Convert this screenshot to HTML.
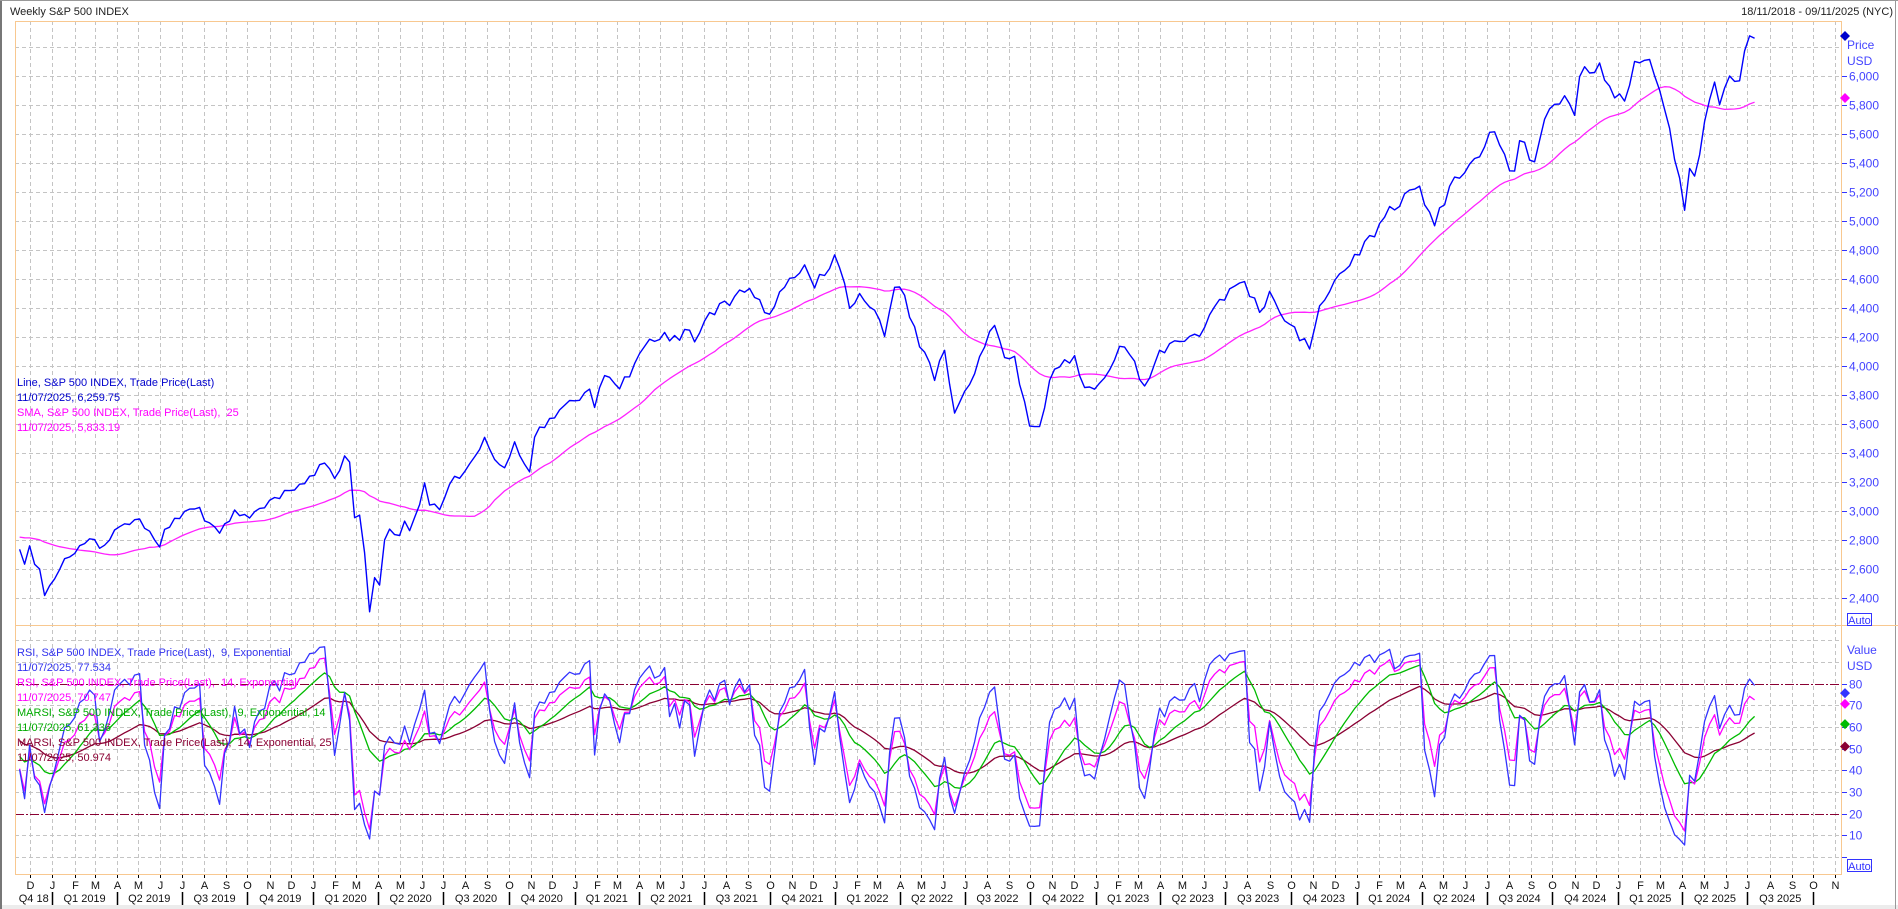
<!DOCTYPE html>
<html><head><meta charset="utf-8"><style>
html,body{margin:0;padding:0;background:#fff;}
svg{display:block;font-family:"Liberation Sans",Arial,sans-serif;}
</style></head><body>
<svg id="s" width="1898" height="909" xmlns="http://www.w3.org/2000/svg">
<rect x="0" y="0" width="1898" height="909" fill="#fff"/>
<rect x="0" y="905" width="1898" height="4" fill="#ececec"/>
<line x1="1" y1="0" x2="1" y2="909" stroke="#777" stroke-width="2"/>
<line x1="0" y1="0.5" x2="1898" y2="0.5" stroke="#999"/>
<line x1="1895.5" y1="0" x2="1895.5" y2="909" stroke="#999"/>
<text x="10" y="15" font-size="11" fill="#222">Weekly S&amp;P 500 INDEX</text>
<text x="1893" y="15" font-size="11" fill="#222" text-anchor="end">18/11/2018 - 09/11/2025 (NYC)</text>
<g id="grid"></g>
<g id="series"></g>
<g id="axes"></g>
</svg>
<script>
const NS="http://www.w3.org/2000/svg";
function el(p,t,a,txt){const e=document.createElementNS(NS,t);for(const k in a)e.setAttribute(k,a[k]);if(txt!==undefined)e.textContent=txt;p.appendChild(e);return e;}
const G=document.getElementById('grid'),S=document.getElementById('series'),A=document.getElementById('axes');
const L=15,R=1841,T=21,MID=625,B=874;
const T0=Date.UTC(2018,10,18);
function X(d){return 21+5*((d-T0)/86400000)/7;}
function YP(p){return 598-(p-2400)*0.145;}
function YV(v){return 857-v*2.1667;}
const mon="JFMAMJJASOND";
for(let y=2018;y<=2025;y++)for(let m=0;m<12;m++){
 const d=Date.UTC(y,m,1); if(d<Date.UTC(2018,11,1)||d>Date.UTC(2025,10,1))continue;
 const x=Math.round(X(d))+0.5;
 el(G,'line',{x1:x,y1:T,x2:x,y2:B,stroke:'#c4c4c4','stroke-dasharray':'4,3'});
 el(A,'line',{x1:x,y1:B,x2:x,y2:B+4,stroke:'#000'});
 el(A,'text',{x:x,y:B+15,'font-size':11,'text-anchor':'middle',fill:'#111'},mon[m]);
 if(m%3==0&&d<Date.UTC(2025,10,1)){el(A,'line',{x1:x,y1:892,x2:x,y2:905,stroke:'#000','stroke-width':1.5});}
}
for(let y=2018;y<=2025;y++)for(let q=0;q<4;q++){
 let s=Date.UTC(y,q*3,1),e=Date.UTC(y,q*3+3,1);
 if(e<=Date.UTC(2018,10,18)||s>Date.UTC(2025,6,1))continue;
 let xs=Math.max(X(s),L),xe=Math.min(X(e),R);
 let lab=(y==2018)?'Q4 18':'Q'+(q+1)+' '+y;
 el(A,'text',{x:(xs+xe)/2,y:902,'font-size':11,'text-anchor':'middle',fill:'#111'},lab);
}
for(let p=2400;p<=6200;p+=200){const y=Math.round(YP(p))+0.5;
 el(G,'line',{x1:L,y1:y,x2:R,y2:y,stroke:'#c4c4c4','stroke-dasharray':'4,3'});
 if(p<=6000){el(A,'line',{x1:R,y1:y,x2:R+6,y2:y,stroke:'#3333ff'});
 el(A,'text',{x:R+8,y:y+4,'font-size':12,fill:'#4444ff'},p.toLocaleString('en-US'));}
}
for(let v=0;v<=100;v+=10){const y=Math.round(YV(v))+0.5;
 if(v!=20&&v!=80)el(G,'line',{x1:L,y1:y,x2:R,y2:y,stroke:'#c4c4c4','stroke-dasharray':'4,3'});
 if(v<=80){el(A,'line',{x1:R,y1:y,x2:R+6,y2:y,stroke:'#3333ff'});
 if(v>0)el(A,'text',{x:R+8,y:y+4,'font-size':12,fill:'#4444ff'},String(v));}
}
[20,80].forEach(v=>{const y=Math.round(YV(v))+0.5;el(G,'line',{x1:L,y1:y,x2:R,y2:y,stroke:'#8a0033','stroke-dasharray':'9,2,2,2'});});
el(A,'rect',{x:L+0.5,y:T+0.5,width:R-L,height:B-T,fill:'none',stroke:'#f8c890'});
el(A,'line',{x1:L,y1:MID+0.5,x2:1898,y2:MID+0.5,stroke:'#f8c890'});
el(A,'text',{x:R+6,y:49,'font-size':12,fill:'#4444ff'},'Price');
el(A,'text',{x:R+6,y:65,'font-size':12,fill:'#4444ff'},'USD');
el(A,'text',{x:R+6,y:654,'font-size':12,fill:'#4444ff'},'Value');
el(A,'text',{x:R+6,y:670,'font-size':12,fill:'#4444ff'},'USD');
[[613],[859]].forEach(a=>{el(A,'rect',{x:1847.5,y:a[0]+0.5,width:24,height:12,fill:'#fff',stroke:'#3333ff'});el(A,'text',{x:1859.5,y:a[0]+11,'font-size':11,fill:'#3333ff','text-anchor':'middle'},'Auto');});
const an=[["2018-05-04",2663],["2018-06-08",2779],["2018-07-27",2818],["2018-08-31",2901],["2018-09-21",2930],["2018-10-05",2885],["2018-10-26",2658],["2018-11-09",2781],
["2018-11-16",2736],["2018-11-23",2633],["2018-11-30",2760],["2018-12-07",2633],["2018-12-14",2600],["2018-12-21",2417],["2018-12-28",2485],["2019-01-04",2532],["2019-01-11",2596],["2019-01-18",2671],["2019-02-01",2706],["2019-02-15",2775],["2019-03-01",2803],["2019-03-08",2743],["2019-03-22",2800],["2019-04-05",2892],["2019-04-26",2940],["2019-05-03",2945],["2019-05-10",2881],["2019-05-31",2752],["2019-06-07",2873],["2019-06-21",2950],["2019-07-12",3013],["2019-07-26",3025],["2019-08-02",2932],["2019-08-09",2918],["2019-08-23",2847],["2019-09-13",3007],["2019-10-04",2952],["2019-10-25",3022],["2019-11-08",3093],["2019-11-29",3141],["2019-12-06",3145],["2019-12-27",3240],["2020-01-17",3330],["2020-01-31",3225],["2020-02-14",3380],["2020-02-21",3337],["2020-02-28",2954],["2020-03-06",2972],["2020-03-13",2711],["2020-03-20",2305],["2020-03-27",2541],["2020-04-03",2489],["2020-04-09",2790],["2020-04-17",2875],["2020-04-24",2837],["2020-05-01",2831],["2020-05-08",2930],["2020-05-15",2864],["2020-05-22",2955],["2020-05-29",3044],["2020-06-05",3194],["2020-06-12",3041],["2020-06-26",3009],["2020-07-10",3185],["2020-07-31",3271],["2020-08-14",3373],["2020-08-28",3508],["2020-09-04",3427],["2020-09-18",3319],["2020-09-25",3298],["2020-10-09",3477],["2020-10-30",3270],["2020-11-06",3509],["2020-11-27",3638],["2020-12-31",3756],["2021-01-22",3841],["2021-01-29",3714],["2021-02-12",3934],["2021-03-05",3842],["2021-04-16",4185],["2021-05-07",4232],["2021-05-14",4173],["2021-06-11",4247],["2021-06-18",4166],["2021-07-09",4369],["2021-08-27",4509],["2021-09-03",4535],["2021-10-01",4357],["2021-10-29",4605],["2021-11-19",4698],["2021-12-03",4538],["2021-12-31",4766],["2022-01-07",4677],["2022-01-21",4398],["2022-01-28",4432],["2022-02-04",4500],["2022-02-25",4385],["2022-03-11",4204],["2022-03-25",4543],["2022-04-01",4545],["2022-04-22",4271],["2022-04-29",4132],["2022-05-13",4023],["2022-05-20",3901],["2022-06-03",4108],["2022-06-17",3675],["2022-07-01",3825],["2022-07-29",4130],["2022-08-12",4280],["2022-08-26",4058],["2022-09-09",4067],["2022-09-16",3873],["2022-09-30",3586],["2022-10-14",3583],["2022-10-28",3901],["2022-11-11",3993],["2022-12-02",4072],["2022-12-16",3852],["2022-12-30",3840],["2023-01-20",3973],["2023-02-03",4136],["2023-02-17",4079],["2023-03-10",3862],["2023-03-31",4109],["2023-04-28",4169],["2023-05-26",4205],["2023-06-16",4410],["2023-07-28",4582],["2023-08-18",4370],["2023-09-01",4515],["2023-09-29",4288],["2023-10-27",4117],["2023-11-10",4415],["2023-12-29",4770],["2024-01-26",4891],["2024-02-09",5026],["2024-03-28",5254],["2024-04-19",4967],["2024-05-17",5303],["2024-06-14",5431],["2024-07-12",5615],["2024-08-02",5346],["2024-08-09",5344],["2024-08-16",5554],["2024-09-06",5408],["2024-09-20",5702],["2024-10-18",5864],["2024-11-01",5729],["2024-11-08",5995],["2024-12-06",6090],["2024-12-20",5930],["2025-01-10",5827],["2025-01-24",6101],["2025-02-14",6114],["2025-03-07",5770],["2025-03-14",5639],["2025-04-04",5074],["2025-04-11",5363],["2025-04-17",5283],["2025-05-02",5686],["2025-05-16",5958],["2025-05-23",5802],["2025-06-06",6000],["2025-06-20",5967],["2025-06-27",6173],["2025-07-03",6279],["2025-07-11",6260]];
const ad=an.map(a=>[Date.parse(a[0]+"T00:00:00Z"),a[1]]);
const dates=[],px=[];
let d=ad[0][0];const end=ad[ad.length-1][0];let k=0,i=0;
while(d<=end+86400000){
 while(k<ad.length-2&&ad[k+1][0]<=d)k++;
 const a=ad[k],b=ad[k+1];let t=(d-a[0])/(b[0]-a[0]);if(t>1)t=1;
 let p=a[1]+(b[1]-a[1])*t;
 const exact=Math.abs(d-a[0])<3*86400000||Math.abs(d-b[0])<3*86400000;
 if(!exact)p*=1+0.008*Math.sin(i*2.3+Math.cos(i*0.7)*3);
 dates.push(d);px.push(p);d+=7*86400000;i++;
}
px[px.length-1]=6259.75;
const n=px.length;
function sma(a,w){return a.map((v,i)=>{let s=0,c=0;for(let j=Math.max(0,i-w+1);j<=i;j++){s+=a[j];c++;}return s/c;});}
function rsi(a,nn){const al=2/(nn+1);let g=a[0]*0.006,l=a[0]*0.006;const r=[50];for(let i=1;i<a.length;i++){const c=a[i]-a[i-1];g=g*(1-al)+Math.max(c,0)*al;l=l*(1-al)+Math.max(-c,0)*al;r.push(100*g/(g+l));}return r;}
function ema(a,nn){const al=2/(nn+1);let e=a[0];return a.map(v=>e=e*(1-al)+v*al);}
const sm=sma(px,25),r9=rsi(px,9),r14=rsi(px,14),g=ema(r9,14),dr=ema(r14,25);
const start=Date.parse("2018-11-15T00:00:00Z");
function path(arr,fy,col,w){let s='';for(let i=0;i<n;i++){if(dates[i]<start)continue;s+=(s?'L':'M')+X(dates[i]).toFixed(1)+','+fy(arr[i]).toFixed(1);}el(S,'path',{d:s,fill:'none',stroke:col,'stroke-width':w||1.3,'stroke-linejoin':'round'});}
path(sm,YP,'#ff22ff',1.3);path(px,YP,'#0000ff',1.4);
path(dr,YV,'#8a0033',1.3);path(g,YV,'#00bb00',1.3);path(r14,YV,'#ff00ff',1.3);path(r9,YV,'#3333ff',1.3);
function dia(x,y,c){el(A,'path',{d:`M${x},${y-5}L${x+5},${y}L${x},${y+5}L${x-5},${y}Z`,fill:c});}
dia(1845,36,'#0000cc');dia(1845,98,'#ff00ff');
dia(1845,YV(77.5)+4,'#3333ff');dia(1845,YV(70.7),'#ff00ff');dia(1845,YV(61.3),'#00bb00');dia(1845,YV(51),'#8a0033');
const lg=[[386,'#0000cc','Line, S&P 500 INDEX, Trade Price(Last)'],[401,'#0000cc','11/07/2025, 6,259.75'],[416,'#ff00ff','SMA, S&P 500 INDEX, Trade Price(Last),  25'],[431,'#ff00ff','11/07/2025, 5,833.19'],
[656,'#3333ee','RSI, S&P 500 INDEX, Trade Price(Last),  9, Exponential'],[671,'#3333ee','11/07/2025, 77.534'],[686,'#ff00ff','RSI, S&P 500 INDEX, Trade Price(Last),  14, Exponential'],[701,'#ff00ff','11/07/2025, 70.747'],
[716,'#00aa00','MARSI, S&P 500 INDEX, Trade Price(Last),  9, Exponential, 14'],[731,'#00aa00','11/07/2025, 61.336'],[746,'#8a0033','MARSI, S&P 500 INDEX, Trade Price(Last),  14, Exponential, 25'],[761,'#8a0033','11/07/2025, 50.974']];
lg.forEach(a=>{const t=el(A,'text',{x:17,y:a[0],'font-size':11,fill:a[1]},a[2]);t.style.whiteSpace='pre';});
</script>
</body></html>
